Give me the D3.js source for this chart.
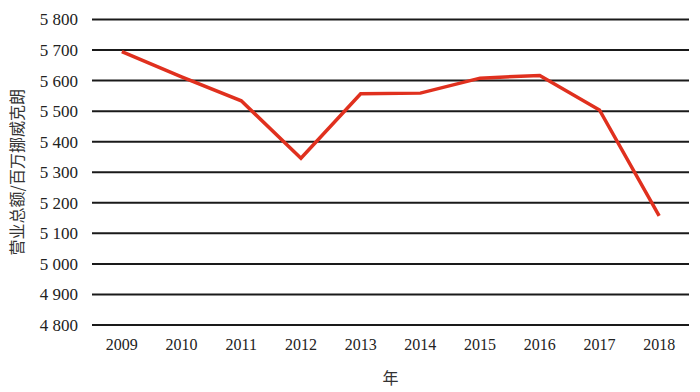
<!DOCTYPE html>
<html>
<head>
<meta charset="utf-8">
<script src="https://cdn.jsdelivr.net/npm/d3@7"></script>
<style>
  body { margin: 0; background: #fff; }
  svg { display: block; }
</style>
</head>
<body>
<svg id="chart" width="700" height="392"></svg>
<script>
const years = ["2009", "2010", "2011", "2012", "2013", "2014", "2015", "2016", "2017", "2018"];
const revenue = [5695, 5612, 5534, 5346, 5557, 5559, 5608, 5617, 5504, 5157];
const yTicks = [4800, 4900, 5000, 5100, 5200, 5300, 5400, 5500, 5600, 5700, 5800];
const yLabel = "营业总额/百万挪威克朗";
const xLabel = "年";

const width = 700;
const height = 392;
const margin = { top: 19.5, right: 11, bottom: 67, left: 92 };
const serif = "'Liberation Serif', 'Times New Roman', serif";

const svg = d3.select("#chart");

const x = d3.scaleBand()
  .domain(years)
  .range([margin.left, width - margin.right]);

const y = d3.scaleLinear()
  .domain([4800, 5800])
  .range([height - margin.bottom, margin.top]);

// horizontal gridlines
svg.append("g")
  .selectAll("line")
  .data(yTicks)
  .enter()
  .append("line")
  .attr("x1", margin.left)
  .attr("x2", width - margin.right)
  .attr("y1", d => y(d))
  .attr("y2", d => y(d))
  .attr("stroke", "#1a1a1a")
  .attr("stroke-width", 2);

// y axis labels
const yAxis = svg.append("g")
  .attr("transform", `translate(${margin.left},0)`)
  .call(d3.axisLeft(y)
    .tickValues(yTicks)
    .tickSize(0)
    .tickPadding(14)
    .tickFormat(d => d3.format(",")(d).replace(",", " ")));
yAxis.select(".domain").remove();
yAxis.selectAll("text")
  .style("font-family", serif)
  .style("font-size", "17px")
  .style("fill", "#222");

// x axis labels
const xAxis = svg.append("g")
  .attr("transform", `translate(0,${height - margin.bottom})`)
  .call(d3.axisBottom(x).tickSize(0).tickPadding(14));
xAxis.select(".domain").remove();
xAxis.selectAll("text")
  .style("font-family", serif)
  .style("font-size", "16px")
  .style("fill", "#222");

// line
const line = d3.line()
  .x((d, i) => x(years[i]) + x.bandwidth() / 2)
  .y(d => y(d));

svg.append("path")
  .datum(revenue)
  .attr("fill", "none")
  .attr("stroke", "#e0301e")
  .attr("stroke-width", 3.5)
  .attr("stroke-linejoin", "miter")
  .attr("d", line);

// axis titles
svg.append("text")
  .attr("transform", `translate(19,${(margin.top + height - margin.bottom) / 2}) rotate(-90)`)
  .attr("text-anchor", "middle")
  .attr("dominant-baseline", "middle")
  .style("font-family", "'Noto Sans CJK SC', sans-serif")
  .style("font-size", "16px")
  .style("fill", "#333")
  .text(yLabel);

svg.append("text")
  .attr("x", (margin.left + width - margin.right) / 2)
  .attr("y", 384)
  .attr("text-anchor", "middle")
  .style("font-family", "'Noto Sans CJK SC', sans-serif")
  .style("font-size", "16px")
  .style("fill", "#333")
  .text(xLabel);
</script>
</body>
</html>
